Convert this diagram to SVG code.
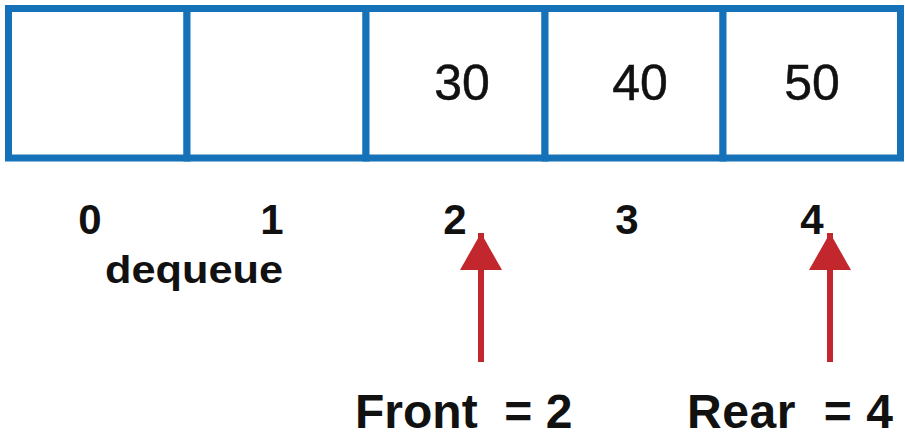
<svg xmlns="http://www.w3.org/2000/svg" width="905" height="437" viewBox="0 0 905 437">
  <style>
    .cell { fill: #ffffff; stroke: #1672b8; stroke-width: 7; }
    .val { font-family: "Liberation Sans", Arial, sans-serif; font-size: 50px; fill: #111111; stroke: #111111; stroke-width: 0.5; text-anchor: middle; }
    .idx { font-family: "Liberation Sans", Arial, sans-serif; font-size: 42px; font-weight: bold; fill: #111111; text-anchor: middle; }
    .lbl { font-family: "Liberation Sans", Arial, sans-serif; font-size: 48px; font-weight: bold; fill: #111111; }
    .note { font-family: "Liberation Sans", Arial, sans-serif; font-size: 38px; font-weight: bold; fill: #111111; }
    .ptr { stroke: #c1272d; stroke-width: 6; fill: none; }
  </style>
  <defs>
    <marker id="head" markerUnits="userSpaceOnUse" markerWidth="40" markerHeight="44" refX="37" refY="21" orient="auto">
      <path d="M0,0 L37,21 L0,42 Z" fill="#c1272d"/>
    </marker>
  </defs>

  <!-- array cells -->
  <g id="cell0"><rect class="cell" x="8.5" y="8.5" width="178.5" height="149.5"/></g>
  <g id="cell1"><rect class="cell" x="187" y="8.5" width="179" height="149.5"/></g>
  <g id="cell2"><rect class="cell" x="366" y="8.5" width="179" height="149.5"/><text class="val" x="462" y="100">30</text></g>
  <g id="cell3"><rect class="cell" x="545" y="8.5" width="178" height="149.5"/><text class="val" x="640" y="100">40</text></g>
  <g id="cell4"><rect class="cell" x="723" y="8.5" width="177.5" height="149.5"/><text class="val" x="812" y="100">50</text></g>

  <!-- indices -->
  <g id="indices">
    <text class="idx" x="90" y="234">0</text>
    <text class="idx" x="272" y="234">1</text>
    <text class="idx" x="455" y="234">2</text>
    <text class="idx" x="627" y="234">3</text>
    <text class="idx" x="812" y="234">4</text>
  </g>
  <g id="dequeue-label"><text class="note" x="105" y="283" textLength="178" lengthAdjust="spacingAndGlyphs">dequeue</text></g>

  <!-- pointers -->
  <g id="connectors">
    <line class="ptr" x1="481" y1="362" x2="481" y2="233" marker-end="url(#head)"/>
    <line class="ptr" x1="830" y1="362" x2="830" y2="233" marker-end="url(#head)"/>
  </g>

  <g id="front-label"><text class="lbl" x="355" y="428" xml:space="preserve">Front  = 2</text></g>
  <g id="rear-label"><text class="lbl" x="687" y="428" textLength="206" lengthAdjust="spacing" xml:space="preserve">Rear  = 4</text></g>
</svg>
